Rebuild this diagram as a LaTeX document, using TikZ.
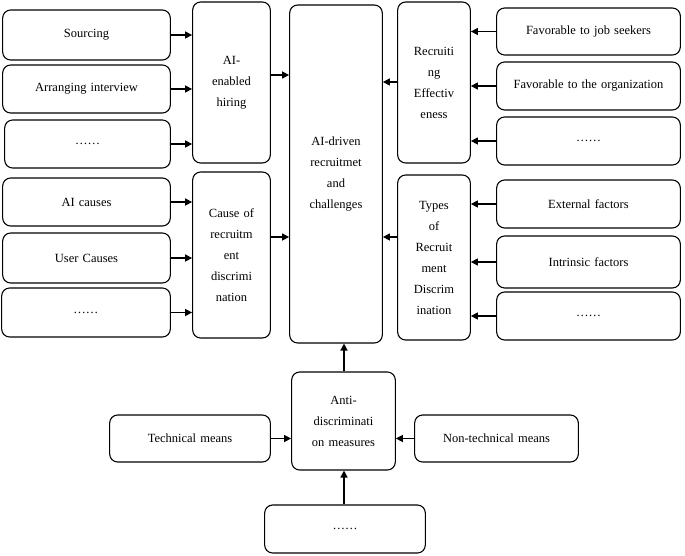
\documentclass[tikz,border=0pt]{standalone}
\usepackage{fontspec}
\setmainfont{Liberation Serif}
\usetikzlibrary{arrows.meta}
\begin{document}
\begin{tikzpicture}[x=1pt,y=-1pt,
 bx/.style={draw,line width=1.1pt,rounded corners=8pt,align=center,font=\fontsize{12.5}{21}\selectfont},
 ar/.style={-{Triangle[length=7pt,width=7pt]},line width=1.4pt}]
\useasboundingbox (0,0) rectangle (685,556);
\newcommand\bb[6]{\node[bx,minimum width=#4-#2,minimum height=#5-#3,text width=#4-#2-6pt] (#1) at ({(#2+#4)/2},{(#3+#5)/2}) {#6};}
\bb{s1}{3}{10}{170}{60}{Sourcing}
\bb{s2}{3}{65}{170}{113}{Arranging interview}
\bb{s3}{5}{120}{170}{168}{……}
\bb{hire}{193}{2}{270}{163}{AI-\\enabled\\hiring}
\bb{c1}{3}{178}{170}{226}{AI causes}
\bb{c2}{3}{233}{170}{283}{User Causes}
\bb{c3}{2}{288}{170}{337}{……}
\bb{cause}{193}{172}{270}{338}{Cause of\\recruitm\\ent\\discrimi\\nation}
\bb{mid}{290}{5}{382}{343}{AI-driven\\recruitmet\\and\\challenges}
\bb{eff}{398}{2}{470}{163}{Recruiti\\ng\\Effectiv\\eness}
\bb{r1}{497}{8}{680}{55}{Favorable to job seekers}
\bb{r2}{497}{62}{680}{110}{Favorable to the organization}
\bb{r3}{497}{117}{680}{165}{……}
\bb{types}{398}{175}{470}{340}{Types\\of\\Recruit\\ment\\Discrim\\ination}
\bb{t1}{497}{180}{680}{228}{External factors}
\bb{t2}{497}{236}{680}{288}{Intrinsic factors}
\bb{t3}{497}{292}{680}{340}{……}
\bb{anti}{292}{372}{395}{470}{Anti-\\discriminati\\on measures}
\bb{tech}{110}{415}{270}{462}{Technical means}
\bb{non}{415}{415}{578}{462}{Non-technical means}
\bb{bot}{265}{505}{425}{553}{……}
\foreach \a/\b in {s1/hire,s2/hire,s3/hire,c1/cause,c2/cause,c3/cause,tech/anti}
  \draw[ar] (\a.east) -- (\a.east -| \b.west);
\foreach \a/\b in {r1/eff,r2/eff,r3/eff,t1/types,t2/types,t3/types,non/anti}
  \draw[ar] (\a.west) -- (\a.west -| \b.east);
\draw[ar] (hire.east |- 0,75) -- (mid.west |- 0,75);
\draw[ar] (cause.east |- 0,237) -- (mid.west |- 0,237);
\draw[ar] (eff.west |- 0,82) -- (mid.east |- 0,82);
\draw[ar] (types.west |- 0,237) -- (mid.east |- 0,237);
\draw[ar] (anti.north -| 344,0) -- (mid.south -| 344,0);
\draw[ar] (bot.north -| 344,0) -- (anti.south -| 344,0);
\end{tikzpicture}
\end{document}
